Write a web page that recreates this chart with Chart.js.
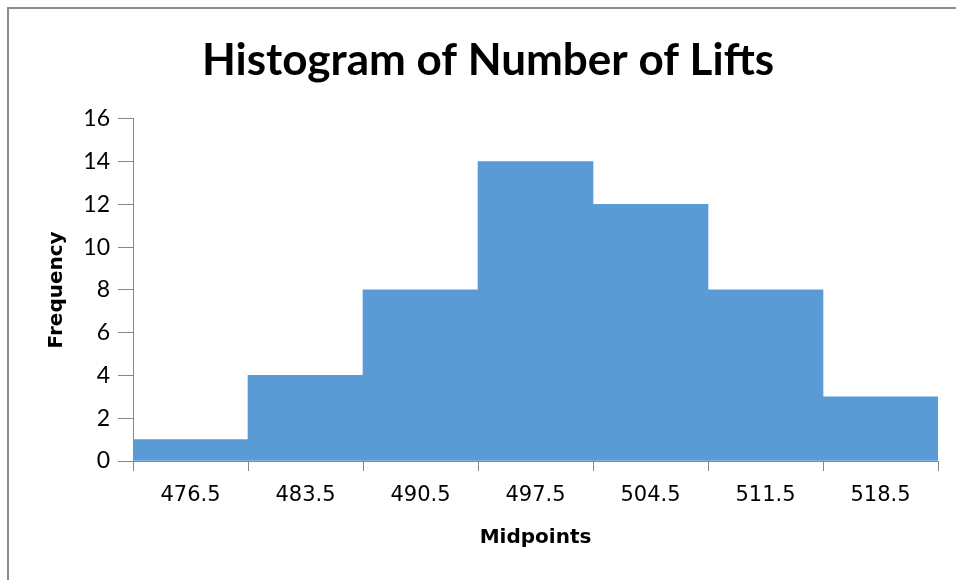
<!DOCTYPE html>
<html>
<head>
<meta charset="utf-8">
<script src="https://cdn.jsdelivr.net/npm/chart.js@4"></script>
<style>
  html, body { margin: 0; padding: 0; background: #fff; overflow: hidden; }
  body { width: 956px; height: 580px; position: relative; }
  #topText { position: absolute; left: 9px; top: -26px; font: 26px "Liberation Serif", serif; color: #000; letter-spacing: 1px; }
  #frame { position: absolute; left: 7px; top: 7px; border-left: 2px solid #8c8c8c; border-top: 2px solid #8c8c8c; }
  #chart { display: block; }
</style>
</head>
<body>
<div id="topText">ANSWER:</div>
<div id="frame"><canvas id="chart" width="958" height="571"></canvas></div>
<script>
const midpoints = ["476.5", "483.5", "490.5", "497.5", "504.5", "511.5", "518.5"];
const frequency = [1, 4, 8, 14, 12, 8, 3];
const yTicks = [0, 2, 4, 6, 8, 10, 12, 14, 16];

const axisGray = "#868686";

new Chart(document.getElementById("chart"), {
  type: "bar",
  data: {
    labels: midpoints,
    datasets: [{
      label: "Frequency",
      data: frequency,
      backgroundColor: "#5B9BD5",
      borderWidth: 0,
      barPercentage: 1,
      categoryPercentage: 1
    }]
  },
  options: {
    responsive: false,
    animation: false,
    // equal side padding so the title is centred on the whole frame
    layout: { padding: { left: 29, right: 29, top: 0, bottom: 0 } },
    plugins: {
      legend: { display: false },
      tooltip: { enabled: false },
      title: {
        display: true,
        text: "Histogram of Number of Lifts",
        color: "#000",
        font: { family: "Lato", size: 44, weight: "bold", lineHeight: 1.2 },
        padding: { top: 25, bottom: 32 }
      }
    },
    scales: {
      x: {
        grid: { offset: true, drawOnChartArea: false, drawTicks: true, tickLength: 10, color: axisGray },
        border: { color: axisGray },
        ticks: { color: "#000", padding: 12, font: { family: "DejaVu Sans", size: 21 } },
        title: {
          display: true,
          text: "Midpoints",
          color: "#000",
          font: { family: "DejaVu Sans", size: 20, weight: "bold", lineHeight: 1.2 },
          padding: { top: 0, bottom: 30 }
        },
        afterFit: s => { s.height = 119; }
      },
      y: {
        min: 0,
        max: 16,
        afterBuildTicks: s => { s.ticks = yTicks.map(v => ({ value: v })); },
        grid: { drawOnChartArea: false, drawTicks: true, tickLength: 15, color: axisGray },
        border: { color: axisGray },
        ticks: { color: "#000", padding: 8, font: { family: "Lato", size: 23 } },
        title: {
          display: true,
          text: "Frequency",
          color: "#000",
          font: { family: "DejaVu Sans", size: 20, weight: "bold", lineHeight: 1.2 },
          padding: { top: 7, bottom: 0 }
        },
        afterFit: s => { s.width = 95; }
      }
    }
  }
});
</script>
</body>
</html>
